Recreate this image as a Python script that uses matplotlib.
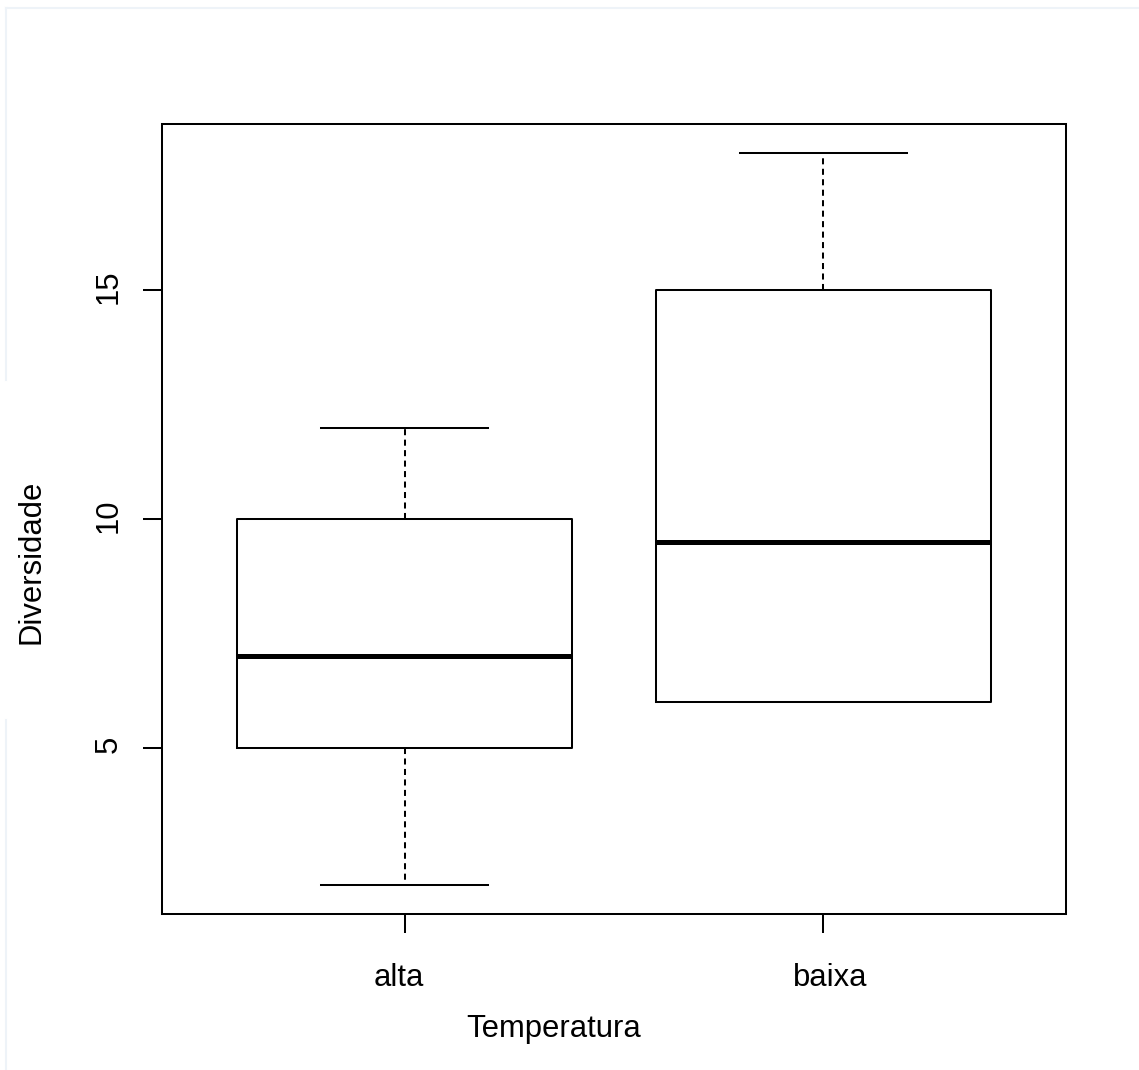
import matplotlib
matplotlib.use("Agg")
import matplotlib.pyplot as plt
from matplotlib.lines import Line2D
from matplotlib.transforms import ScaledTranslation

groups = ["alta", "baixa"]
whislo = [2, 6]
q1 = [5, 6]
med = [7, 9.5]
q3 = [10, 15]
whishi = [12, 18]
yticks = [5, 10, 15]

plt.rcParams['font.family'] = ['Liberation Sans', 'DejaVu Sans']

W, H = 1139, 1070
fig = plt.figure(figsize=(W/100, H/100), dpi=100)
ax = fig.add_axes([162/W, 1-914/H, (1066-162)/W, (914-124)/H])

stats = []
for g, lo, a, m, b, hi in zip(groups, whislo, q1, med, q3, whishi):
    stats.append(dict(label=g, whislo=lo, q1=a, med=m, q3=b, whishi=hi, fliers=[]))

lw = 1.45
ax.bxp(stats, positions=[1, 2], widths=0.8, capwidths=0.4, showfliers=False,
       boxprops=dict(color='black', linewidth=lw),
       medianprops=dict(color='black', linewidth=3.6, solid_capstyle='butt'),
       whiskerprops=dict(color='black', linewidth=lw, linestyle=(0, (3, 2.2))),
       capprops=dict(color='black', linewidth=lw))

fs = 22.3
ax.set_xlim(0.42, 2.58)
ax.set_ylim(1.36, 18.64)
ax.set_yticks(yticks)
ax.set_yticklabels([str(v) for v in yticks], rotation=90, va='center')
ax.set_xticks([1, 2])
ax.set_xticklabels(groups)
for s in ax.spines.values():
    s.set_linewidth(lw)
ax.tick_params(axis='both', length=13.5, width=lw, labelsize=fs, colors='black')
ax.tick_params(axis='y', pad=14)
ax.tick_params(axis='x', pad=22)

# small offsets of tick labels as in the reference
for lab, dx in zip(ax.get_xticklabels(), [-6, 7]):
    lab.set_transform(lab.get_transform() + ScaledTranslation(dx/100, 0, fig.dpi_scale_trans))
for lab in ax.get_yticklabels():
    lab.set_transform(lab.get_transform() + ScaledTranslation(0, 3.5/100, fig.dpi_scale_trans))

ax.set_xlabel("Temperatura", fontsize=fs)
ax.set_ylabel("Diversidade", fontsize=fs)
ax.xaxis.set_label_coords((553.5-162)/904, (914-1014)/790)
ax.yaxis.set_label_coords((47-162)/904, (914-562)/790)

# faint outer frame of the screenshot
c = '#eef3f8'
fig.add_artist(Line2D([6/W, 1], [1-8/H, 1-8/H], color=c, lw=1.5, transform=fig.transFigure))
fig.add_artist(Line2D([6/W, 6/W], [1-8/H, 1-380/H], color=c, lw=1.5, transform=fig.transFigure))
fig.add_artist(Line2D([6/W, 6/W], [1-720/H, 0], color=c, lw=1.5, transform=fig.transFigure))

fig.savefig("out.png", dpi=100)
